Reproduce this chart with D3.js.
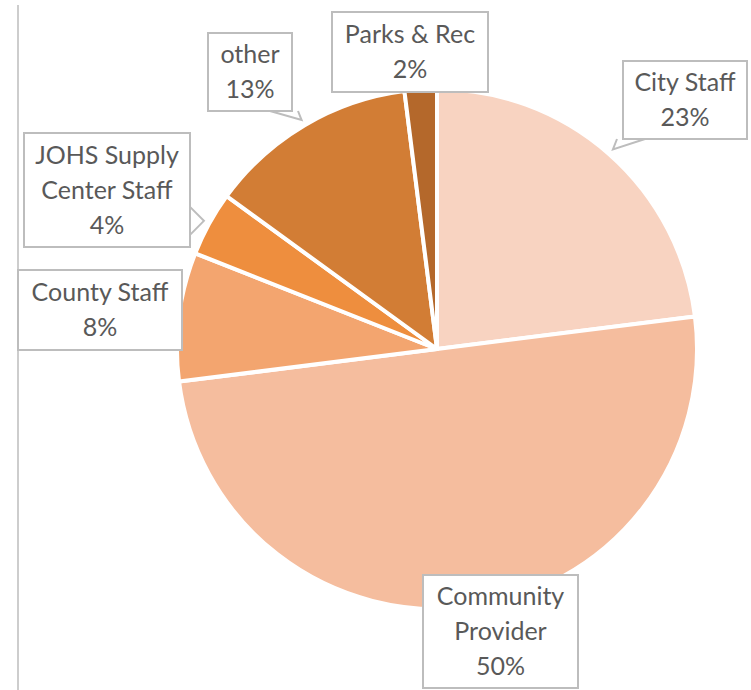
<!DOCTYPE html>
<html>
<head>
<meta charset="utf-8">
<script src="https://cdn.jsdelivr.net/npm/d3@7"></script>
<style>
  html, body { margin: 0; padding: 0; background: #fff; }
  svg { display: block; }
</style>
</head>
<body>
<svg id="chart" width="751" height="690"></svg>
<script>
// ---- data ----
const categories = ["City Staff", "Community Provider", "County Staff", "JOHS Supply Center Staff", "other", "Parks & Rec"];
const values = [23, 50, 8, 4, 13, 2];
const labelLines = [["City Staff"], ["Community", "Provider"], ["County Staff"], ["JOHS Supply", "Center Staff"], ["other"], ["Parks & Rec"]];
const colors = ["#F8D3C1", "#F5BD9E", "#F3A56F", "#EE8E3E", "#D27D35", "#B4682B"];

// ---- layout (label callout boxes: x, y, w, h) ----
const boxes = [
  [623, 61, 124, 78],
  [423, 575, 155, 113],
  [18, 270, 164, 80],
  [24, 133, 166, 114],
  [208, 33, 84, 78],
  [332, 12, 156, 80]
];
const pointers = [true, false, false, true, true, false];

const svg = d3.select("#chart");
const cx = 437, cy = 349, r = 260;

// left border line
svg.append("line").attr("x1", 18).attr("x2", 18).attr("y1", 5).attr("y2", 690)
  .attr("stroke", "#bdbdbd").attr("stroke-width", 1.5);

const pie = d3.pie().sort(null).value(d => d)(values);
const arc = d3.arc().innerRadius(0).outerRadius(r);

const g = svg.append("g").attr("transform", `translate(${cx},${cy})`);
g.selectAll("path.slice").data(pie).join("path")
  .attr("class", "slice")
  .attr("d", arc)
  .attr("fill", (d, i) => colors[i])
  .attr("stroke", "#fff")
  .attr("stroke-width", 4)
  .attr("stroke-linejoin", "round");

const total = d3.sum(values);
const fmt = d3.format(".0%");

pie.forEach((d, i) => {
  const [bx, by, bw, bh] = boxes[i];
  const lg = svg.append("g");
  if (pointers[i]) {
    const mid = (d.startAngle + d.endAngle) / 2;
    const tx = cx + Math.sin(mid) * (r + 6);
    const ty = cy - Math.cos(mid) * (r + 6);
    // anchor on nearest box edge
    const ax = Math.max(bx, Math.min(bx + bw, tx));
    const ay = Math.max(by, Math.min(by + bh, ty));
    let p1, p2;
    if (ay === by + bh || ay === by) { // top/bottom edge
      const ex = Math.max(bx + 8, Math.min(bx + bw - 8, ax));
      p1 = [ex - 14, ay]; p2 = [ex + 14, ay];
    } else {
      const ey = Math.max(by + 8, Math.min(by + bh - 8, ay));
      p1 = [ax, ey - 14]; p2 = [ax, ey + 14];
    }
    lg.append("path")
      .attr("d", `M${p1[0]},${p1[1]}L${tx},${ty}L${p2[0]},${p2[1]}`)
      .attr("fill", "#fff").attr("stroke", "#bdbdbd").attr("stroke-width", 2);
  }
  lg.append("rect").attr("x", bx).attr("y", by).attr("width", bw).attr("height", bh)
    .attr("fill", "#fff").attr("stroke", "#bdbdbd").attr("stroke-width", 2);
  const lines = labelLines[i].concat([fmt(values[i] / total)]);
  const lh = 35;
  const y0 = by + bh / 2 - (lines.length - 1) * lh / 2;
  lines.forEach((t, k) => {
    lg.append("text")
      .attr("x", bx + bw / 2).attr("y", y0 + k * lh)
      .attr("dy", "0.35em")
      .attr("text-anchor", "middle")
      .attr("font-family", "Lato, 'Open Sans', sans-serif")
      .attr("font-size", 25)
      .attr("fill", "#595959")
      .text(t);
  });
});
</script>
</body>
</html>
